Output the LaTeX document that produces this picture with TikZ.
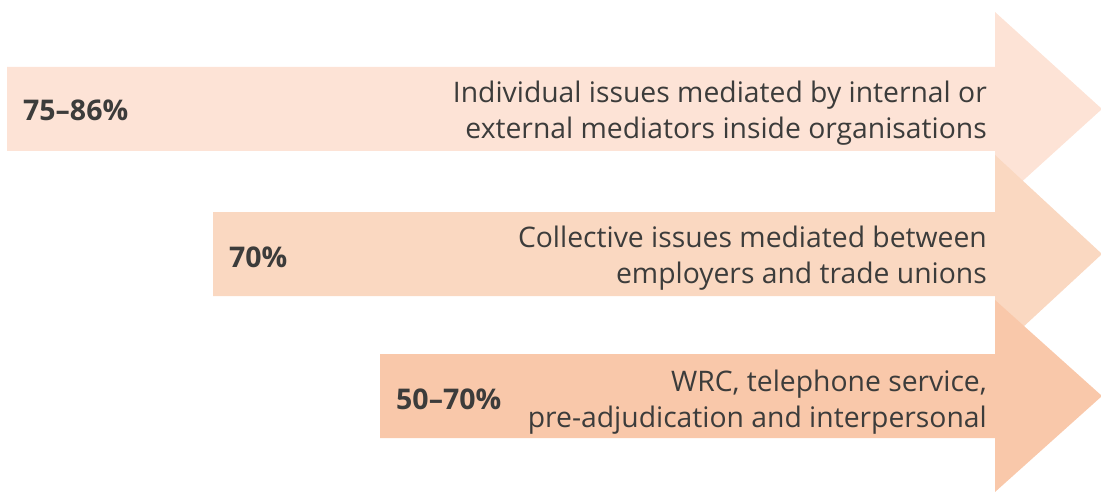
\documentclass[tikz,border=0pt]{standalone}
\usepackage{fontspec}
\setmainfont{Open Sans}
\definecolor{aone}{HTML}{FDE3D6}
\definecolor{atwo}{HTML}{FAD8C1}
\definecolor{athree}{HTML}{F9C8AA}
\definecolor{txt}{HTML}{3C3C3B}
\begin{document}
\begin{tikzpicture}[x=1pt,y=-1pt,
  desc/.style={anchor=east,align=right,text=txt,inner sep=0pt,font=\fontsize{28.3}{36}\selectfont},
  pct/.style={anchor=west,text=txt,inner sep=0pt,font=\fontsize{28.5}{30}\selectfont\bfseries}]
\useasboundingbox (0,0) rectangle (1101,492);
\fill[aone] (7,67) -- (995,67) -- (995,12) -- (1102,109) -- (995,206) -- (995,151) -- (7,151) -- cycle;
\fill[atwo] (213,212) -- (995,212) -- (995,155) -- (1102,254) -- (995,353) -- (995,296) -- (213,296) -- cycle;
\fill[athree] (380,354) -- (995,354) -- (995,300) -- (1102,396) -- (995,492) -- (995,438) -- (380,438) -- cycle;
\node[pct] (p1) at (23,110) {75–86\%};
\node[desc] (d1) at (987,113) {Individual issues mediated by internal or\\external mediators inside organisations};
\node[pct] (p2) at (229,257) {70\%};
\node[desc] (d2) at (987,258) {Collective issues mediated between\\employers and trade unions};
\node[pct] (p3) at (396,399) {50–70\%};
\node[desc] (d3) at (987,402) {WRC, telephone service,\\pre-adjudication and interpersonal};
\end{tikzpicture}
\end{document}
